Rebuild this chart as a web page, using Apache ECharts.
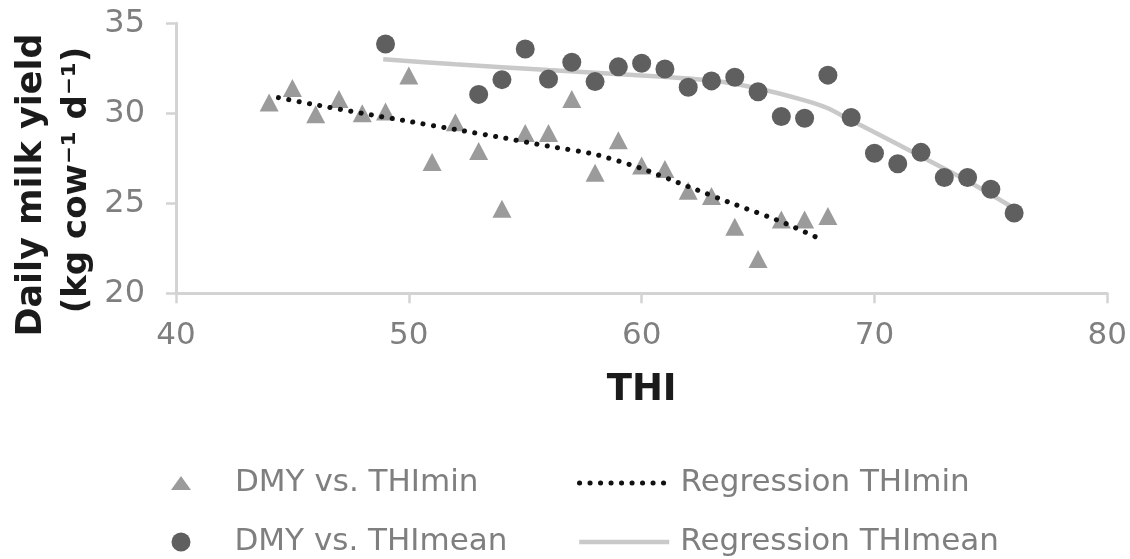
<!DOCTYPE html>
<html>
<head>
<meta charset="utf-8">
<title>Daily milk yield vs THI</title>
<script src="https://cdn.jsdelivr.net/npm/echarts@6/dist/echarts.min.js"></script>
<style>
  html, body { margin: 0; padding: 0; background: #ffffff; }
  #chart { width: 1130px; height: 559px; }
</style>
</head>
<body>
<div id="chart"></div>
<script>
// Daily milk yield (DMY) observed against the minimum daily THI
const thiMin = [44, 45, 46, 47, 48, 49, 50, 51, 52, 53, 54, 55, 56, 57, 58, 59, 60, 61, 62, 63, 64, 65, 66, 67, 68];
const dmyThiMin = [30.6, 31.4, 29.95, 30.8, 30.0, 30.1, 32.1, 27.3, 29.5, 27.9, 24.7, 28.9, 28.9, 30.8, 26.7, 28.5, 27.1, 26.9, 25.7, 25.4, 23.7, 21.9, 24.1, 24.1, 24.3];

// Daily milk yield observed against the mean daily THI
const thiMean = [49, 53, 54, 55, 56, 57, 58, 59, 60, 61, 62, 63, 64, 65, 66, 67, 68, 69, 70, 71, 72, 73, 74, 75, 76];
const dmyThiMean = [33.85, 31.05, 31.87, 33.57, 31.9, 32.84, 31.76, 32.58, 32.78, 32.46, 31.45, 31.8, 32.0, 31.2, 29.82, 29.72, 32.12, 29.77, 27.78, 27.2, 27.83, 26.43, 26.43, 25.78, 24.46];

// Fitted regression curves
const regMinX = [44.4, 46, 48, 50, 52, 54, 56, 58, 60, 62, 64, 66, 67.7];
const regMinY = [30.87, 30.47, 30.0, 29.55, 29.1, 28.65, 28.17, 27.72, 26.93, 25.93, 24.94, 23.98, 23.0];
const regMeanX = [48.9, 52, 56, 60, 63, 65, 67, 68, 69, 70, 72, 74, 76.1];
const regMeanY = [33.0, 32.72, 32.4, 32.1, 31.82, 31.38, 30.72, 30.28, 29.6, 28.95, 27.6, 26.24, 24.65];

// Axis ticks
const xTicks = { min: 40, max: 80, step: 10 };
const yTicks = { min: 20, max: 35, step: 5 };

const names = {
  scatterMin: 'DMY vs. THImin',
  scatterMean: 'DMY vs. THImean',
  regMin: 'Regression THImin',
  regMean: 'Regression THImean'
};

const pairs = (xs, ys) => xs.map((x, i) => [x, ys[i]]);

const FONT = 'DejaVu Sans';
const AXIS_GREY = '#d3d3d3';
const LABEL_GREY = '#7f7f7f';
const TITLE_INK = '#1b1b1b';
const MEAN_LINE = { color: '#c9c9c9', width: 4.5 };
const MIN_LINE = { color: '#111111', width: 5, type: [0.1, 10.4], cap: 'round' };

const legendText = (padLeft) => ({
  fontFamily: FONT,
  fontSize: 31,
  color: LABEL_GREY,
  lineHeight: 36,
  padding: [0, 0, 0, padLeft]
});

const makeLegend = (name, left, top, w, h, padLeft, extra) => Object.assign({
  data: [name],
  left: left,
  top: top,
  padding: 0,
  itemWidth: w,
  itemHeight: h,
  selectedMode: false,
  textStyle: legendText(padLeft)
}, extra || {});

const chart = echarts.init(document.getElementById('chart'), null, { renderer: 'canvas' });

chart.setOption({
  backgroundColor: '#ffffff',
  animation: false,
  grid: { left: 176, right: 22.5, top: 23.3, bottom: 265.7, containLabel: false },
  xAxis: {
    type: 'value',
    min: xTicks.min,
    max: xTicks.max,
    interval: xTicks.step,
    name: 'THI',
    nameLocation: 'middle',
    nameGap: 79,
    nameTextStyle: { fontFamily: FONT, fontSize: 37, fontWeight: 'bold', color: TITLE_INK },
    axisLine: { show: true, lineStyle: { color: AXIS_GREY, width: 3 } },
    axisTick: { show: true, inside: false, length: 10, lineStyle: { color: AXIS_GREY, width: 2.5 } },
    axisLabel: { margin: 27, fontFamily: FONT, fontSize: 31, color: LABEL_GREY },
    splitLine: { show: false }
  },
  yAxis: {
    type: 'value',
    min: yTicks.min,
    max: yTicks.max,
    interval: yTicks.step,
    axisLine: { show: true, lineStyle: { color: AXIS_GREY, width: 3 } },
    axisTick: { show: true, inside: false, length: 10, lineStyle: { color: AXIS_GREY, width: 2.5 } },
    axisLabel: { margin: 31, fontFamily: FONT, fontSize: 32, color: LABEL_GREY },
    splitLine: { show: false }
  },
  legend: [
    makeLegend(names.scatterMin, 171, 465, 20, 14, 39),
    makeLegend(names.scatterMean, 171.5, 524, 19, 19, 39),
    makeLegend(names.regMin, 577, 465, 90, 14, 6, {
      itemStyle: { opacity: 0 },
      lineStyle: MIN_LINE
    }),
    makeLegend(names.regMean, 577, 524, 90, 14, 6, {
      itemStyle: { opacity: 0 },
      lineStyle: MEAN_LINE
    })
  ],
  graphic: [
    {
      type: 'text',
      x: 32, y: 185,
      rotation: Math.PI / 2,
      silent: true,
      style: {
        text: 'Daily milk yield',
        fontFamily: FONT, fontSize: 35, fontWeight: 'bold',
        fill: TITLE_INK, align: 'center', verticalAlign: 'middle'
      }
    },
    {
      type: 'text',
      x: 77, y: 180,
      rotation: Math.PI / 2,
      silent: true,
      style: {
        text: '(kg cow\u207B\u00B9 d\u207B\u00B9)',
        fontFamily: FONT, fontSize: 34, fontWeight: 'bold',
        fill: TITLE_INK, align: 'center', verticalAlign: 'middle'
      }
    }
  ],
  series: [
    {
      name: names.regMean,
      type: 'line',
      data: pairs(regMeanX, regMeanY),
      showSymbol: false,
      symbol: 'none',
      smooth: 0.2,
      lineStyle: MEAN_LINE,
      itemStyle: { color: MEAN_LINE.color },
      z: 1
    },
    {
      name: names.scatterMean,
      type: 'scatter',
      data: pairs(thiMean, dmyThiMean),
      symbol: 'circle',
      symbolSize: 19,
      itemStyle: { color: '#5f5f5f', opacity: 1 },
      z: 2
    },
    {
      name: names.scatterMin,
      type: 'scatter',
      data: pairs(thiMin, dmyThiMin),
      symbol: 'triangle',
      symbolSize: [19, 18],
      itemStyle: { color: '#9b9b9b', opacity: 1 },
      z: 3
    },
    {
      name: names.regMin,
      type: 'line',
      data: pairs(regMinX, regMinY),
      showSymbol: false,
      symbol: 'none',
      smooth: 0.25,
      lineStyle: MIN_LINE,
      itemStyle: { color: MIN_LINE.color },
      z: 4
    }
  ]
});
</script>
</body>
</html>
